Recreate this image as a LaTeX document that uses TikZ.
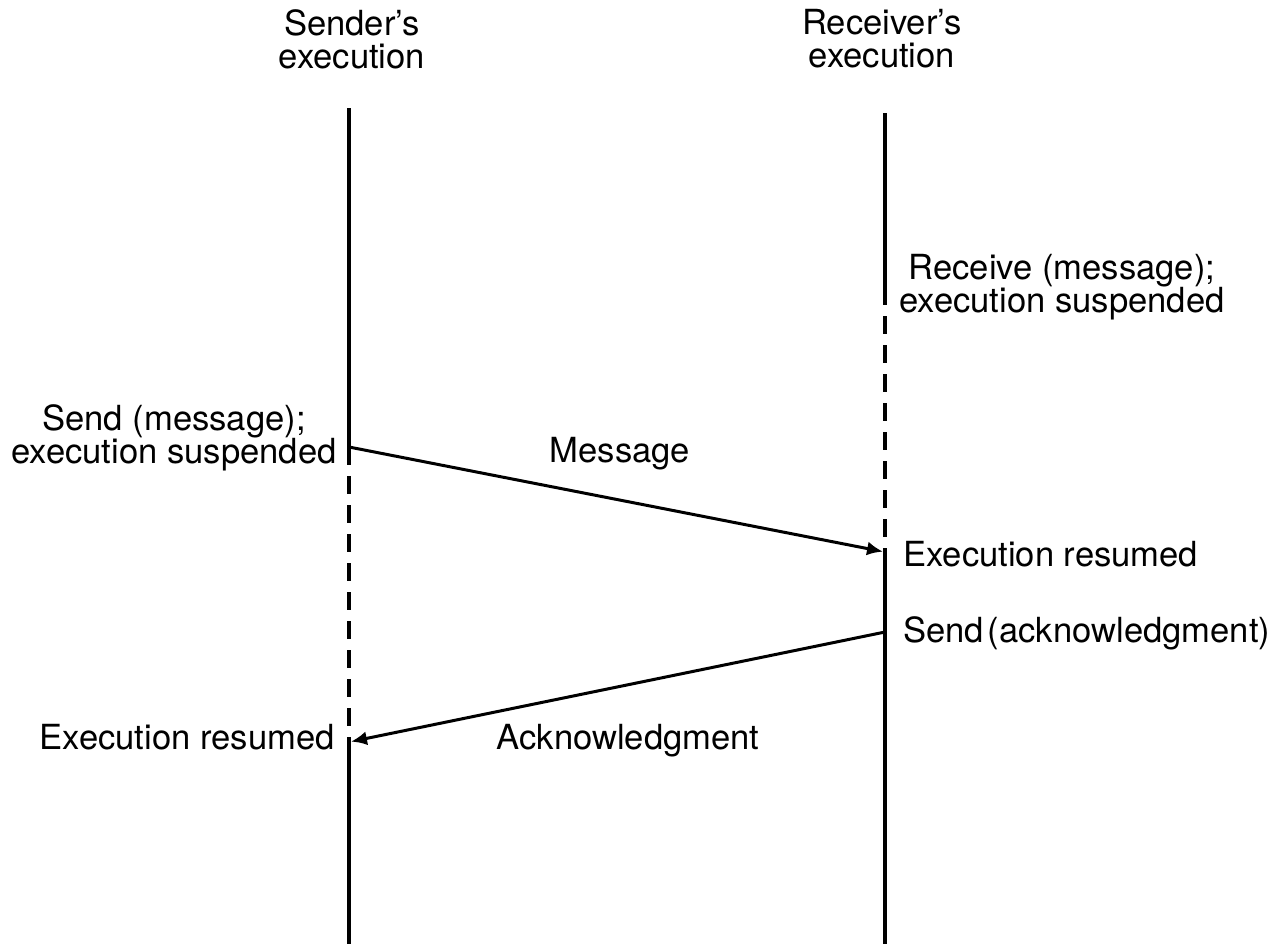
\documentclass[tikz,border=0pt]{standalone}
\usepackage{fontspec}
\setmainfont{TeX Gyre Heros}
\usetikzlibrary{arrows.meta}
\begin{document}
\begin{tikzpicture}[x=0.5pt,y=-0.5pt,
  lifeline/.style={line width=1.6pt},
  waiting/.style={line width=1.6pt, dash pattern=on 9pt off 5.5pt},
  msg/.style={line width=1.5pt, -{Latex[length=8pt,width=7pt]}},
  lbl/.style={inner sep=0pt, font=\fontsize{17.3}{16.5}\selectfont, align=center}
]
\useasboundingbox (0,0) rectangle (1272,944);

% key points on the two time lines
\coordinate (sTop)    at (349,108);
\coordinate (sSend)   at (349,447);
\coordinate (sResume) at (349,742);
\coordinate (sBot)    at (349,944);
\coordinate (rTop)    at (885,113);
\coordinate (rRecv)   at (885,287);
\coordinate (rResume) at (885,552);
\coordinate (rAck)    at (885,632);
\coordinate (rBot)    at (885,944);

% sender's time line
\draw[lifeline] (sTop) -- (sSend);
\draw[waiting]  (sSend) -- (sResume);
\draw[lifeline] (sResume) -- (sBot);

% receiver's time line
\draw[lifeline] (rTop) -- (rRecv);
\draw[waiting]  (rRecv) -- (rResume);
\draw[lifeline] (rResume) -- (rBot);

% messages
\draw[msg, shorten >=1pt] (sSend) -- (rResume);
\draw[msg, shorten >=1pt] (rAck) -- (sResume);

% headings
\node[lbl, anchor=north] (sHead) at (352,9) {Sender’s\\execution};
\node[lbl, anchor=north] (rHead) at (882,9) {Receiver’s\\execution};

% event labels
\node[lbl, anchor=north] (recvLbl) at (1062,254) {Receive (message);\\execution suspended};
\node[lbl, anchor=north east] (sendLbl) at (337,404) {Send (message);\\execution suspended};
\node[lbl, anchor=base] (msgLbl) at (620,462) {Message};
\node[lbl, anchor=base west] (rResLbl) at (903,566) {Execution resumed};
\node[lbl, anchor=base west] (ackSendLbl) at (903,642) {Send\hspace{0.1em}(acknowledgment)};
\node[lbl, anchor=base east] (sResLbl) at (335,749) {Execution resumed};
\node[lbl, anchor=base] (ackLbl) at (628,749) {Acknowledgment};
\end{tikzpicture}
\end{document}
